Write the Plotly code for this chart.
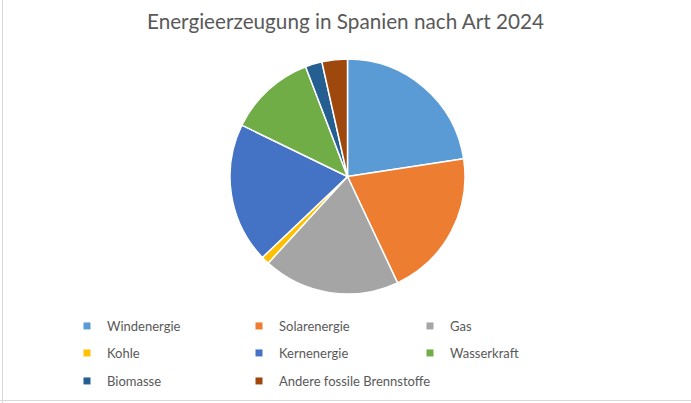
import plotly.graph_objects as go

# Anteile an der Erzeugung 2024 (%)
labels = [
    "Windenergie",
    "Solarenergie",
    "Gas",
    "Kohle",
    "Kernenergie",
    "Wasserkraft",
    "Biomasse",
    "Andere fossile Brennstoffe",
]
values = [22.6, 20.4, 18.8, 1.1, 19.3, 12.0, 2.3, 3.5]
colors = ["#5B9BD5", "#ED7D31", "#A5A5A5", "#FFC000", "#4472C4", "#70AD47", "#255E91", "#9E480E"]

W, H = 691, 403
FONT = "Lato"
GREY = "#595959"

fig = go.Figure()
fig.add_trace(
    go.Pie(
        labels=labels,
        values=values,
        sort=False,
        direction="clockwise",
        rotation=0,
        textinfo="none",
        marker=dict(colors=colors, line=dict(color="white", width=1.5)),
        showlegend=False,
        domain=dict(x=[230 / W, 465 / W], y=[1 - 294 / H, 1 - 59 / H]),
    )
)

# legend grid: 3 columns, entries filled row by row; one small legend per entry
col_x = [67, 239, 410]
row_y = [326, 353, 381]
legends = {}
for i, (lab, col) in enumerate(zip(labels, colors)):
    key = "legend" if i == 0 else f"legend{i + 1}"
    fig.add_trace(
        go.Scatter(
            x=[None],
            y=[None],
            mode="markers",
            name=lab,
            marker=dict(symbol="square", size=7, color=col),
            legend=key,
        )
    )
    legends[key] = dict(
        orientation="h",
        xanchor="left",
        yanchor="middle",
        x=col_x[i % 3] / W,
        y=1 - row_y[i // 3] / H,
        font=dict(family=FONT, size=13, color=GREY),
        bgcolor="rgba(0,0,0,0)",
        itemclick=False,
        itemdoubleclick=False,
    )
fig.update_layout(**legends)

fig.update_layout(
    width=W,
    height=H,
    margin=dict(l=0, r=0, t=0, b=0),
    paper_bgcolor="white",
    plot_bgcolor="white",
    xaxis=dict(visible=False),
    yaxis=dict(visible=False),
    title=dict(
        text="Energieerzeugung in Spanien nach Art 2024",
        x=0.5,
        xanchor="center",
        y=1 - 22 / H,
        yanchor="middle",
        font=dict(family=FONT, size=20.7, color=GREY),
    ),
    shapes=[
        dict(type="line", xref="paper", yref="paper", x0=2.5 / W, x1=2.5 / W, y0=0, y1=1,
             line=dict(color="#D9D9D9", width=1)),
        dict(type="line", xref="paper", yref="paper", x0=0, x1=1, y0=2.5 / H, y1=2.5 / H,
             line=dict(color="#D9D9D9", width=1)),
    ],
)

fig.write_html(
    "out.html",
    config={"displayModeBar": False},
    post_script="document.body.style.margin='0';",
)
